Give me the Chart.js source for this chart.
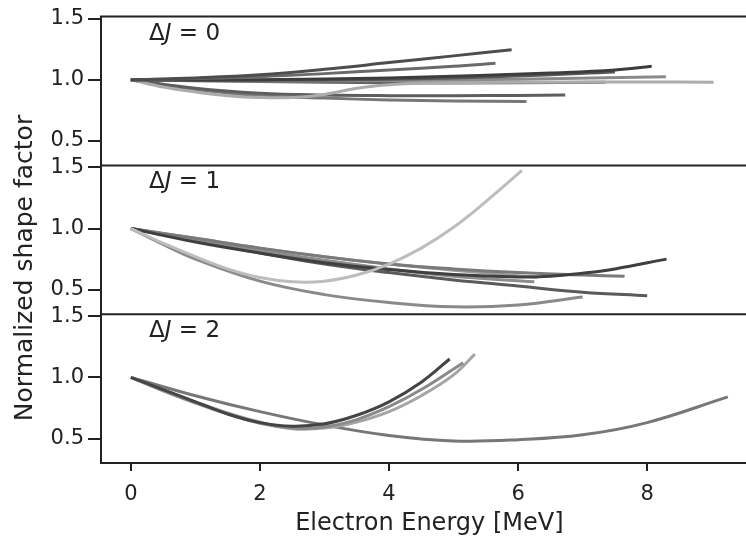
<!DOCTYPE html>
<html>
<head>
<meta charset="utf-8">
<script src="https://cdn.jsdelivr.net/npm/chart.js@4.4.1/dist/chart.umd.min.js"></script>
<style>
  html, body { margin: 0; padding: 0; background: #fff; overflow: hidden; }
  #wrap { width: 770px; height: 538px; }
</style>
</head>
<body>
<div id="wrap"><canvas id="c" width="770" height="538"></canvas></div>
<script>
// panel text and ticks
const panelLabels = ['0', '1', '2'];
const xTicks = [0, 2, 4, 6, 8];
const yTicks = [0.5, 1.0, 1.5];

// ΔJ = 0 curves, [energy MeV, normalized shape factor]
const dj0_1 = [[0,1],[1,1.015],[2,1.04],[3,1.085],[4,1.14],[5,1.195],[5.9,1.245]];
const dj0_2 = [[0,1],[1,1.01],[2,1.025],[3,1.05],[4,1.08],[5,1.11],[5.65,1.135]];
const dj0_3 = [[0,1],[2,1.0],[4,1.015],[5.4,1.035],[6.5,1.055],[7.5,1.08],[8.07,1.11]];
const dj0_4 = [[0,1],[2,0.995],[4,1.005],[6,1.03],[7.5,1.063]];
const dj0_5 = [[0,1],[2,0.99],[4,0.995],[6,1.005],[8.29,1.025]];
const dj0_6 = [[0,1],[0.5,0.94],[1,0.9],[1.5,0.87],[2,0.855],[2.5,0.855],[3,0.88],[3.5,0.93],[4,0.96],[5,0.975],[6,0.98],[8,0.982],[9.03,0.98]];
const dj0_7 = [[0,1],[2,0.985],[4,0.975],[6,0.975],[7.35,0.98]];
const dj0_8 = [[0,1],[1,0.93],[2,0.89],[3,0.875],[4,0.87],[5,0.87],[6,0.872],[6.73,0.875]];
const dj0_9 = [[0,1],[1,0.92],[2,0.87],[3,0.85],[4,0.835],[5,0.827],[6.13,0.822]];

// ΔJ = 1 curves
const dj1_1 = [[0,1],[0.5,0.88],[1,0.77],[1.5,0.67],[2,0.6],[2.5,0.565],[3,0.57],[3.5,0.62],[4,0.71],[4.5,0.84],[5,1.01],[5.5,1.22],[6.06,1.475]];
const dj1_2 = [[0,1],[0.5,0.87],[1,0.75],[2,0.57],[3,0.46],[4,0.395],[5,0.36],[6,0.375],[7,0.44]];
const dj1_3 = [[0,1],[1,0.89],[2,0.8],[3,0.72],[4,0.665],[5,0.625],[6,0.605],[6.5,0.61],[7,0.635],[7.5,0.67],[8.3,0.75]];
const dj1_4 = [[0,1],[1,0.92],[2,0.84],[3,0.77],[4,0.71],[5,0.67],[6,0.64],[7,0.62],[7.65,0.61]];
const dj1_5 = [[0,1],[1,0.91],[2,0.82],[3,0.74],[4,0.67],[5,0.61],[6.25,0.565]];
const dj1_6 = [[0,1],[1,0.92],[2,0.84],[3,0.77],[4,0.71],[5,0.66],[6.3,0.6]];
const dj1_7 = [[0,1],[1,0.9],[2,0.8],[3,0.71],[4,0.64],[5,0.58],[6,0.53],[7,0.48],[8,0.45]];

// ΔJ = 2 curves
const dj2_1 = [[0,1],[0.5,0.9],[1,0.8],[1.5,0.7],[2,0.63],[2.5,0.6],[3,0.62],[3.5,0.69],[4,0.8],[4.5,0.96],[4.94,1.15]];
const dj2_2 = [[0,1],[0.5,0.89],[1,0.79],[1.5,0.7],[2,0.625],[2.5,0.585],[3,0.595],[3.5,0.655],[4,0.76],[4.5,0.9],[5.15,1.12]];
const dj2_3 = [[0,1],[0.5,0.895],[1,0.8],[1.5,0.71],[2,0.635],[2.5,0.58],[3,0.585],[3.5,0.635],[4,0.72],[4.5,0.85],[5,1.02],[5.33,1.19]];
const dj2_4 = [[0,1],[1,0.85],[2,0.72],[3,0.61],[4,0.525],[5,0.48],[6,0.49],[7,0.53],[8,0.63],[9.25,0.84]];

const panels = [
  { id: 'y0', curves: [dj0_1, dj0_2, dj0_3, dj0_4, dj0_5, dj0_6, dj0_7, dj0_8, dj0_9],
    colors: ['#4d4d4d','#6a6a6a','#3d3d3d','#585858','#8a8a8a','#acacac','#666666','#5e5e5e','#777777'] },
  { id: 'y1', curves: [dj1_1, dj1_2, dj1_3, dj1_4, dj1_5, dj1_6, dj1_7],
    colors: ['#bdbdbd','#8a8a8a','#3f3f3f','#7a7a7a','#8c8c8c','#9a9a9a','#5a5a5a'] },
  { id: 'y2', curves: [dj2_1, dj2_2, dj2_3, dj2_4],
    colors: ['#444444','#8a8a8a','#a5a5a5','#777777'] }
];

const FONT = "'DejaVu Sans', sans-serif";
const INK = '#222';

const datasets = [];
panels.forEach(p => p.curves.forEach((c, i) => datasets.push({
  data: c.map(([x, y]) => ({ x, y })),
  yAxisID: p.id,
  borderColor: p.colors[i],
  borderWidth: 3,
  pointRadius: 0,
  tension: 0.4,
  fill: false
})));

function yScale() {
  return {
    type: 'linear', position: 'left', stack: 'panels', stackWeight: 1,
    min: 0.30, max: 1.516,
    afterFit: s => { s.width = 101; },
    afterBuildTicks: s => { s.ticks = yTicks.map(v => ({ value: v })); },
    ticks: { font: { family: FONT, size: 21 }, color: INK, padding: 4, callback: v => v.toFixed(1) },
    grid: { drawOnChartArea: false, tickLength: 13, tickColor: INK, lineWidth: 2 },
    border: { color: INK, width: 2 }
  };
}

// the last left scale is placed on top of the stack
const scales = {
  x: {
    type: 'linear', min: -0.4625, max: 9.7125,
    afterFit: s => { s.height = 75; },
    afterBuildTicks: s => { s.ticks = xTicks.map(v => ({ value: v })); },
    ticks: { font: { family: FONT, size: 21 }, color: INK, padding: 11, maxRotation: 0 },
    grid: { drawOnChartArea: false, tickLength: 8, tickColor: INK, lineWidth: 2 },
    border: { color: INK, width: 2 },
    title: { display: true, text: 'Electron Energy [MeV]', color: INK, font: { family: FONT, size: 24 }, padding: { top: 0, bottom: 0 } }
  },
  y2: yScale(),
  y1: yScale(),
  y0: yScale()
};

const decor = {
  id: 'decor',
  afterDraw(chart) {
    const { ctx, chartArea } = chart;
    ctx.save();
    ctx.strokeStyle = INK;
    ctx.lineWidth = 2;
    panels.forEach(p => {
      const s = chart.scales[p.id];
      ctx.beginPath();
      ctx.moveTo(chartArea.left - 1, s.top);
      ctx.lineTo(chartArea.right, s.top);
      ctx.stroke();
    });
    // panel labels: Δ J = n with italic J
    ctx.fillStyle = INK;
    ctx.textBaseline = 'alphabetic';
    ctx.textAlign = 'left';
    panels.forEach((p, i) => {
      const s = chart.scales[p.id];
      let x = 149;
      const y = s.top + 23;
      ctx.font = `23px ${FONT}`;
      ctx.fillText('Δ', x, y); x += ctx.measureText('Δ').width;
      ctx.font = `oblique 23px ${FONT}`;
      ctx.fillText('J', x, y); x += ctx.measureText('J').width;
      ctx.font = `23px ${FONT}`;
      ctx.fillText(' = ' + panelLabels[i], x, y);
    });
    // shared y label
    ctx.translate(32, 268);
    ctx.rotate(-Math.PI / 2);
    ctx.textAlign = 'center';
    ctx.font = `25px ${FONT}`;
    ctx.fillText('Normalized shape factor', 0, 0);
    ctx.restore();
  }
};

new Chart(document.getElementById('c').getContext('2d'), {
  type: 'line',
  data: { datasets },
  options: {
    responsive: false,
    animation: false,
    layout: { padding: { top: 14, right: 12.3, bottom: 0, left: 0 } },
    plugins: { legend: { display: false }, tooltip: { enabled: false } },
    scales
  },
  plugins: [decor]
});
</script>
</body>
</html>
